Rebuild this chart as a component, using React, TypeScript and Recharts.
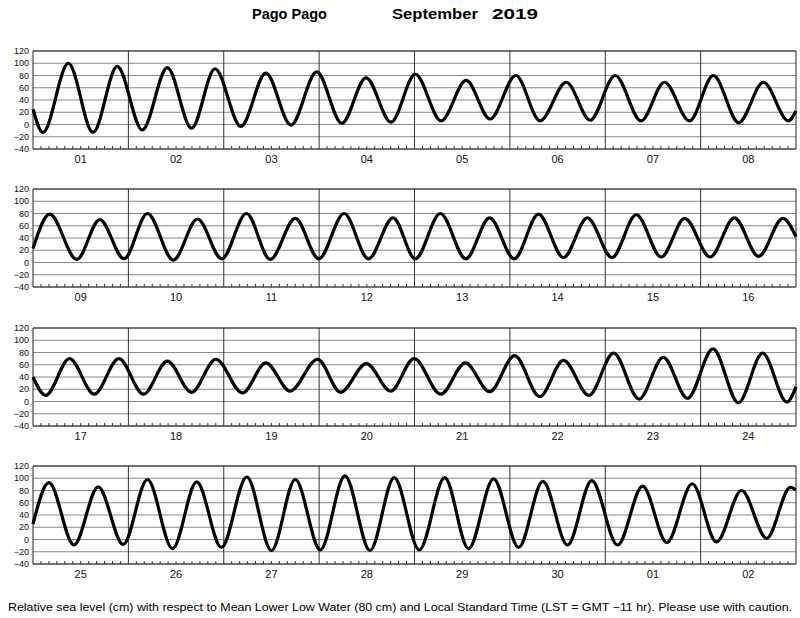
import { LineChart, Line, XAxis, YAxis, CartesianGrid, ReferenceLine } from "recharts";

// day labels per strip
const strip1Days = ["01", "02", "03", "04", "05", "06", "07", "08"];
const strip2Days = ["09", "10", "11", "12", "13", "14", "15", "16"];
const strip3Days = ["17", "18", "19", "20", "21", "22", "23", "24"];
const strip4Days = ["25", "26", "27", "28", "29", "30", "01", "02"];

// turning points: hours from strip start, sea level in cm
const strip1Hours = [0, 2.5, 8.9, 15.1, 21.2, 27.5, 33.8, 39.9, 45.8, 52.3, 58.6, 64.9, 71.4, 77.7, 83.8, 90.1, 96.2, 102.7, 109.0, 115.0, 121.5, 127.6, 134.2, 140.2, 146.5, 153.0, 158.9, 165.2, 171.2, 177.6, 183.8, 190.1, 192];
const strip1Levels = [25, -13, 100, -13, 95, -9, 93, -6, 91, -3, 84, -1, 86, 2, 76, 4, 82, 6, 72, 9, 80, 6, 69, 7, 80, 6, 69, 6, 80, 3, 69, 6, 22];

const strip2Hours = [0, 4.2, 11.0, 16.8, 22.9, 28.8, 35.3, 41.4, 47.5, 53.7, 59.7, 66.0, 71.9, 78.3, 84.4, 90.6, 96.2, 102.5, 108.9, 114.9, 121.1, 127.2, 133.5, 139.5, 145.7, 151.8, 158.1, 164.0, 170.4, 176.5, 182.6, 188.7, 192];
const strip2Levels = [23, 79, 5, 70, 6, 80, 4, 71, 6, 80, 5, 72, 6, 80, 6, 73, 6, 80, 6, 73, 6, 79, 8, 73, 8, 78, 9, 72, 9, 73, 10, 72, 42];

const strip3Hours = [0, 3.2, 9.2, 15.4, 21.6, 27.8, 33.8, 39.9, 46.0, 52.7, 58.6, 64.7, 71.6, 77.4, 83.9, 90.0, 95.9, 102.6, 108.8, 114.9, 121.2, 127.5, 133.5, 139.9, 146.1, 152.5, 158.6, 164.7, 171.1, 177.5, 183.6, 189.7, 192];
const strip3Levels = [40, 10, 70, 12, 70, 12, 66, 15, 69, 14, 63, 17, 69, 15, 62, 17, 70, 12, 63, 16, 75, 8, 67, 10, 79, 4, 72, 5, 86, -2, 79, -1, 24];

const strip4Hours = [0, 4.0, 10.3, 16.4, 22.7, 28.8, 35.1, 41.2, 47.4, 53.8, 60.0, 66.0, 72.3, 78.5, 84.8, 90.9, 97.2, 103.6, 109.6, 115.9, 122.2, 128.3, 134.5, 140.6, 147.1, 153.4, 159.5, 165.9, 172.0, 178.3, 184.6, 190.6, 192];
const strip4Levels = [25, 93, -9, 86, -8, 98, -15, 94, -13, 102, -18, 98, -17, 104, -18, 101, -17, 101, -15, 99, -13, 95, -9, 96, -9, 87, -5, 91, -4, 80, 2, 85, 81];

const levelTicks = [-40, -20, 0, 20, 40, 60, 80, 100, 120];
const hourTicks = Array.from({ length: 97 }, (_, i) => i * 2);
const dayEdges = [24, 48, 72, 96, 120, 144, 168];

const strips = [
  { days: strip1Days, hours: strip1Hours, levels: strip1Levels },
  { days: strip2Days, hours: strip2Hours, levels: strip2Levels },
  { days: strip3Days, hours: strip3Hours, levels: strip3Levels },
  { days: strip4Days, hours: strip4Hours, levels: strip4Levels },
];

const FONT = "'Liberation Sans', Arial, Helvetica, sans-serif";

function HourTick(props: any) {
  const { x, y, payload, days } = props;
  const hour = payload.value as number;
  const label = hour % 24 === 12 ? days[Math.floor(hour / 24)] : null;
  return (
    <g>
      {hour % 24 !== 0 && (
        <line x1={x} x2={x} y1={y} y2={y - 3} stroke="#333" strokeWidth={1} />
      )}
      {label && (
        <text x={x} y={y + 14} textAnchor="middle" fontSize={11} fill="#111">
          {label}
        </text>
      )}
    </g>
  );
}

function TideStrip({ days, hours, levels, top }: { days: string[]; hours: number[]; levels: number[]; top: number }) {
  const data = hours.map((h, i) => ({ hour: h, level: levels[i] }));
  return (
    <div style={{ position: "absolute", left: 0, top }}>
      <LineChart width={800} height={138} data={data} margin={{ top: 10, right: 4, bottom: 0, left: 0 }}>
        <CartesianGrid vertical={false} stroke="#8a8a8a" strokeWidth={1} />
        <XAxis
          dataKey="hour"
          type="number"
          domain={[0, 192]}
          ticks={hourTicks}
          interval={0}
          height={30}
          tickLine={false}
          axisLine={false}
          tickSize={0}
          tickMargin={0}
          tick={(p: any) => <HourTick {...p} days={days} />}
        />
        <YAxis
          type="number"
          domain={[-40, 120]}
          ticks={levelTicks}
          interval={0}
          width={33}
          tickLine={false}
          axisLine={false}
          tickSize={2}
          tickMargin={2}
          tick={{ fontSize: 9, fill: "#111" }}
          tickFormatter={(v: number) => (v < 0 ? `\u2212${-v}` : `${v}`)}
        />
        {dayEdges.map((h) => (
          <ReferenceLine key={h} x={h} stroke="#333" strokeWidth={1} />
        ))}
        <ReferenceLine x={0} stroke="#222" strokeWidth={1} />
        <ReferenceLine x={192} stroke="#222" strokeWidth={1} />
        <ReferenceLine y={120} stroke="#222" strokeWidth={1} />
        <ReferenceLine y={-40} stroke="#222" strokeWidth={1} />
        <Line
          type="monotone"
          dataKey="level"
          stroke="#000"
          strokeWidth={3.2}
          dot={false}
          isAnimationActive={false}
        />
      </LineChart>
    </div>
  );
}

export default function App() {
  return (
    <div style={{ position: "absolute", left: 0, top: 0, width: 800, height: 618, background: "#fff", fontFamily: FONT }}>
      <svg width={800} height={618} style={{ position: "absolute", left: 0, top: 0 }}>
        <g fontWeight="bold" fontSize={14} fill="#000">
          <text x={252} y={19} textLength={75} lengthAdjust="spacingAndGlyphs">Pago Pago</text>
          <text x={392} y={19} textLength={86} lengthAdjust="spacingAndGlyphs">September</text>
          <text x={492} y={19} textLength={46} lengthAdjust="spacingAndGlyphs">2019</text>
        </g>
        <text x={8} y={611} fontSize={11} fill="#000" textLength={784} lengthAdjust="spacingAndGlyphs">
          Relative sea level (cm) with respect to Mean Lower Low Water (80 cm) and Local Standard Time (LST = GMT −11 hr). Please use with caution.
        </text>
      </svg>
      {strips.map((s, i) => (
        <TideStrip key={i} days={s.days} hours={s.hours} levels={s.levels} top={41 + Math.round(i * 138.4)} />
      ))}
    </div>
  );
}
